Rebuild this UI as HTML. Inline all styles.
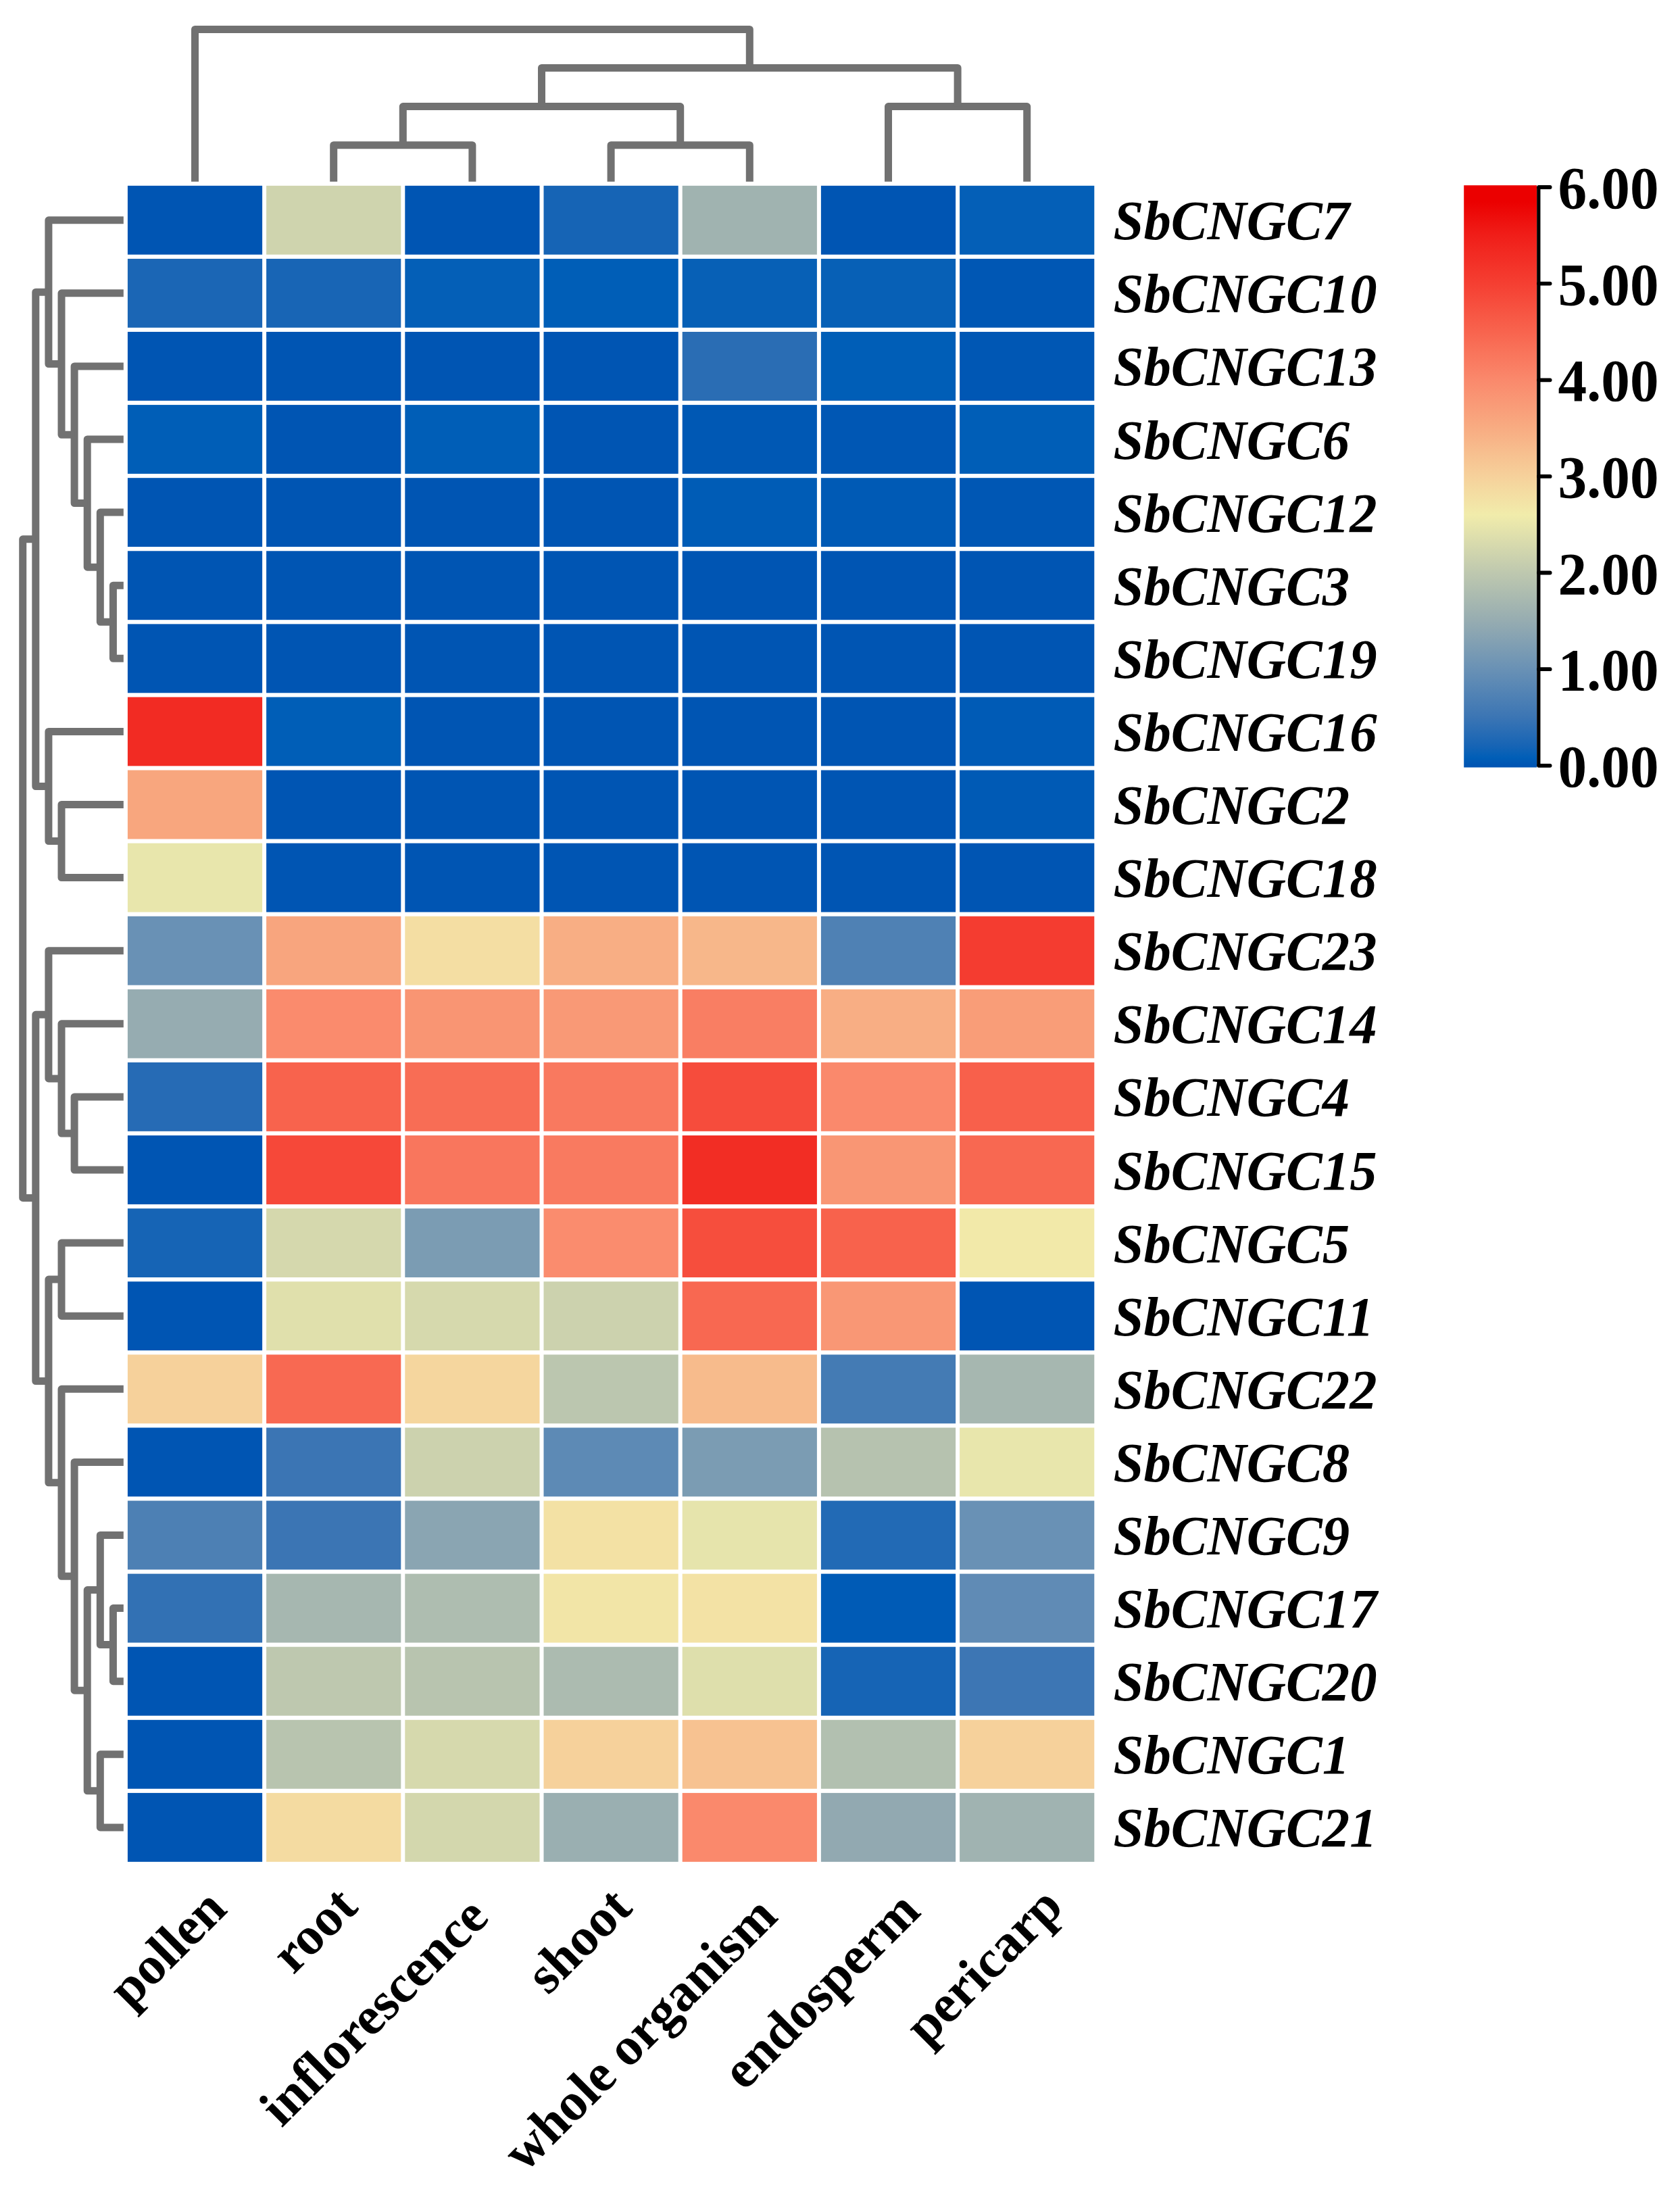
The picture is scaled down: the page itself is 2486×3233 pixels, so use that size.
<!DOCTYPE html>
<html><head><meta charset="utf-8"><title>Heatmap</title><style>html,body{margin:0;padding:0;background:#fff}svg{display:block}</style></head><body>
<svg width="2486" height="3233" viewBox="0 0 2486 3233">
<rect width="2486" height="3233" fill="#fff"/>
<g shape-rendering="auto">
<rect x="188.90" y="274.80" width="199.2" height="101.9" fill="#0055b3"/>
<rect x="394.10" y="274.80" width="199.2" height="101.9" fill="#cfd4ae"/>
<rect x="599.30" y="274.80" width="199.2" height="101.9" fill="#0055b3"/>
<rect x="804.50" y="274.80" width="199.2" height="101.9" fill="#1664b5"/>
<rect x="1009.70" y="274.80" width="199.2" height="101.9" fill="#a0b3b0"/>
<rect x="1214.90" y="274.80" width="199.2" height="101.9" fill="#0055b3"/>
<rect x="1420.10" y="274.80" width="199.2" height="101.9" fill="#045fb7"/>
<rect x="188.90" y="382.90" width="199.2" height="101.9" fill="#1b66b5"/>
<rect x="394.10" y="382.90" width="199.2" height="101.9" fill="#1865b5"/>
<rect x="599.30" y="382.90" width="199.2" height="101.9" fill="#045fb7"/>
<rect x="804.50" y="382.90" width="199.2" height="101.9" fill="#005eb7"/>
<rect x="1009.70" y="382.90" width="199.2" height="101.9" fill="#0760b6"/>
<rect x="1214.90" y="382.90" width="199.2" height="101.9" fill="#0760b6"/>
<rect x="1420.10" y="382.90" width="199.2" height="101.9" fill="#0057b4"/>
<rect x="188.90" y="490.99" width="199.2" height="101.9" fill="#0055b3"/>
<rect x="394.10" y="490.99" width="199.2" height="101.9" fill="#0055b3"/>
<rect x="599.30" y="490.99" width="199.2" height="101.9" fill="#0055b3"/>
<rect x="804.50" y="490.99" width="199.2" height="101.9" fill="#0055b3"/>
<rect x="1009.70" y="490.99" width="199.2" height="101.9" fill="#2a6db4"/>
<rect x="1214.90" y="490.99" width="199.2" height="101.9" fill="#005eb7"/>
<rect x="1420.10" y="490.99" width="199.2" height="101.9" fill="#0057b4"/>
<rect x="188.90" y="599.09" width="199.2" height="101.9" fill="#005eb7"/>
<rect x="394.10" y="599.09" width="199.2" height="101.9" fill="#0055b3"/>
<rect x="599.30" y="599.09" width="199.2" height="101.9" fill="#005eb7"/>
<rect x="804.50" y="599.09" width="199.2" height="101.9" fill="#0055b3"/>
<rect x="1009.70" y="599.09" width="199.2" height="101.9" fill="#0058b4"/>
<rect x="1214.90" y="599.09" width="199.2" height="101.9" fill="#0057b4"/>
<rect x="1420.10" y="599.09" width="199.2" height="101.9" fill="#005eb7"/>
<rect x="188.90" y="707.18" width="199.2" height="101.9" fill="#0055b3"/>
<rect x="394.10" y="707.18" width="199.2" height="101.9" fill="#0055b3"/>
<rect x="599.30" y="707.18" width="199.2" height="101.9" fill="#0055b3"/>
<rect x="804.50" y="707.18" width="199.2" height="101.9" fill="#0055b3"/>
<rect x="1009.70" y="707.18" width="199.2" height="101.9" fill="#005cb6"/>
<rect x="1214.90" y="707.18" width="199.2" height="101.9" fill="#005ab5"/>
<rect x="1420.10" y="707.18" width="199.2" height="101.9" fill="#0057b4"/>
<rect x="188.90" y="815.28" width="199.2" height="101.9" fill="#0055b3"/>
<rect x="394.10" y="815.28" width="199.2" height="101.9" fill="#0055b3"/>
<rect x="599.30" y="815.28" width="199.2" height="101.9" fill="#0055b3"/>
<rect x="804.50" y="815.28" width="199.2" height="101.9" fill="#0055b3"/>
<rect x="1009.70" y="815.28" width="199.2" height="101.9" fill="#0055b3"/>
<rect x="1214.90" y="815.28" width="199.2" height="101.9" fill="#0055b3"/>
<rect x="1420.10" y="815.28" width="199.2" height="101.9" fill="#0055b3"/>
<rect x="188.90" y="923.38" width="199.2" height="101.9" fill="#0055b3"/>
<rect x="394.10" y="923.38" width="199.2" height="101.9" fill="#0055b3"/>
<rect x="599.30" y="923.38" width="199.2" height="101.9" fill="#0055b3"/>
<rect x="804.50" y="923.38" width="199.2" height="101.9" fill="#0055b3"/>
<rect x="1009.70" y="923.38" width="199.2" height="101.9" fill="#0055b3"/>
<rect x="1214.90" y="923.38" width="199.2" height="101.9" fill="#0055b3"/>
<rect x="1420.10" y="923.38" width="199.2" height="101.9" fill="#0055b3"/>
<rect x="188.90" y="1031.47" width="199.2" height="101.9" fill="#f22b23"/>
<rect x="394.10" y="1031.47" width="199.2" height="101.9" fill="#005eb7"/>
<rect x="599.30" y="1031.47" width="199.2" height="101.9" fill="#0055b3"/>
<rect x="804.50" y="1031.47" width="199.2" height="101.9" fill="#0055b3"/>
<rect x="1009.70" y="1031.47" width="199.2" height="101.9" fill="#0055b3"/>
<rect x="1214.90" y="1031.47" width="199.2" height="101.9" fill="#0055b3"/>
<rect x="1420.10" y="1031.47" width="199.2" height="101.9" fill="#005bb6"/>
<rect x="188.90" y="1139.57" width="199.2" height="101.9" fill="#f8a67e"/>
<rect x="394.10" y="1139.57" width="199.2" height="101.9" fill="#0055b3"/>
<rect x="599.30" y="1139.57" width="199.2" height="101.9" fill="#0055b3"/>
<rect x="804.50" y="1139.57" width="199.2" height="101.9" fill="#0055b3"/>
<rect x="1009.70" y="1139.57" width="199.2" height="101.9" fill="#0055b3"/>
<rect x="1214.90" y="1139.57" width="199.2" height="101.9" fill="#0055b3"/>
<rect x="1420.10" y="1139.57" width="199.2" height="101.9" fill="#005ab5"/>
<rect x="188.90" y="1247.66" width="199.2" height="101.9" fill="#e8e6ac"/>
<rect x="394.10" y="1247.66" width="199.2" height="101.9" fill="#0055b3"/>
<rect x="599.30" y="1247.66" width="199.2" height="101.9" fill="#0055b3"/>
<rect x="804.50" y="1247.66" width="199.2" height="101.9" fill="#0055b3"/>
<rect x="1009.70" y="1247.66" width="199.2" height="101.9" fill="#0055b3"/>
<rect x="1214.90" y="1247.66" width="199.2" height="101.9" fill="#0055b3"/>
<rect x="1420.10" y="1247.66" width="199.2" height="101.9" fill="#0055b3"/>
<rect x="188.90" y="1355.76" width="199.2" height="101.9" fill="#6991b5"/>
<rect x="394.10" y="1355.76" width="199.2" height="101.9" fill="#f8a57e"/>
<rect x="599.30" y="1355.76" width="199.2" height="101.9" fill="#f4dea3"/>
<rect x="804.50" y="1355.76" width="199.2" height="101.9" fill="#f8ae84"/>
<rect x="1009.70" y="1355.76" width="199.2" height="101.9" fill="#f7b78a"/>
<rect x="1214.90" y="1355.76" width="199.2" height="101.9" fill="#4f81b4"/>
<rect x="1420.10" y="1355.76" width="199.2" height="101.9" fill="#f43c30"/>
<rect x="188.90" y="1463.86" width="199.2" height="101.9" fill="#96acb1"/>
<rect x="394.10" y="1463.86" width="199.2" height="101.9" fill="#fa8b6d"/>
<rect x="599.30" y="1463.86" width="199.2" height="101.9" fill="#f99573"/>
<rect x="804.50" y="1463.86" width="199.2" height="101.9" fill="#f99976"/>
<rect x="1009.70" y="1463.86" width="199.2" height="101.9" fill="#f97e63"/>
<rect x="1214.90" y="1463.86" width="199.2" height="101.9" fill="#f8ae84"/>
<rect x="1420.10" y="1463.86" width="199.2" height="101.9" fill="#f99d78"/>
<rect x="188.90" y="1571.95" width="199.2" height="101.9" fill="#266bb5"/>
<rect x="394.10" y="1571.95" width="199.2" height="101.9" fill="#f8634d"/>
<rect x="599.30" y="1571.95" width="199.2" height="101.9" fill="#f86d55"/>
<rect x="804.50" y="1571.95" width="199.2" height="101.9" fill="#f9795f"/>
<rect x="1009.70" y="1571.95" width="199.2" height="101.9" fill="#f64c3c"/>
<rect x="1214.90" y="1571.95" width="199.2" height="101.9" fill="#fa896c"/>
<rect x="1420.10" y="1571.95" width="199.2" height="101.9" fill="#f8604b"/>
<rect x="188.90" y="1680.05" width="199.2" height="101.9" fill="#0055b3"/>
<rect x="394.10" y="1680.05" width="199.2" height="101.9" fill="#f64839"/>
<rect x="599.30" y="1680.05" width="199.2" height="101.9" fill="#f9765d"/>
<rect x="804.50" y="1680.05" width="199.2" height="101.9" fill="#f97a60"/>
<rect x="1009.70" y="1680.05" width="199.2" height="101.9" fill="#f22d24"/>
<rect x="1214.90" y="1680.05" width="199.2" height="101.9" fill="#f99674"/>
<rect x="1420.10" y="1680.05" width="199.2" height="101.9" fill="#f86851"/>
<rect x="188.90" y="1788.14" width="199.2" height="101.9" fill="#1664b5"/>
<rect x="394.10" y="1788.14" width="199.2" height="101.9" fill="#d5d8ad"/>
<rect x="599.30" y="1788.14" width="199.2" height="101.9" fill="#7b9cb3"/>
<rect x="804.50" y="1788.14" width="199.2" height="101.9" fill="#fa8c6e"/>
<rect x="1009.70" y="1788.14" width="199.2" height="101.9" fill="#f64e3d"/>
<rect x="1214.90" y="1788.14" width="199.2" height="101.9" fill="#f8624c"/>
<rect x="1420.10" y="1788.14" width="199.2" height="101.9" fill="#f2e9a9"/>
<rect x="188.90" y="1896.24" width="199.2" height="101.9" fill="#0055b3"/>
<rect x="394.10" y="1896.24" width="199.2" height="101.9" fill="#e0e0ac"/>
<rect x="599.30" y="1896.24" width="199.2" height="101.9" fill="#d6d9ad"/>
<rect x="804.50" y="1896.24" width="199.2" height="101.9" fill="#ccd2ae"/>
<rect x="1009.70" y="1896.24" width="199.2" height="101.9" fill="#f86851"/>
<rect x="1214.90" y="1896.24" width="199.2" height="101.9" fill="#f99775"/>
<rect x="1420.10" y="1896.24" width="199.2" height="101.9" fill="#0055b3"/>
<rect x="188.90" y="2004.34" width="199.2" height="101.9" fill="#f6d19b"/>
<rect x="394.10" y="2004.34" width="199.2" height="101.9" fill="#f86952"/>
<rect x="599.30" y="2004.34" width="199.2" height="101.9" fill="#f5d69e"/>
<rect x="804.50" y="2004.34" width="199.2" height="101.9" fill="#bbc6af"/>
<rect x="1009.70" y="2004.34" width="199.2" height="101.9" fill="#f7bb8c"/>
<rect x="1214.90" y="2004.34" width="199.2" height="101.9" fill="#447bb4"/>
<rect x="1420.10" y="2004.34" width="199.2" height="101.9" fill="#a6b7b0"/>
<rect x="188.90" y="2112.43" width="199.2" height="101.9" fill="#0055b3"/>
<rect x="394.10" y="2112.43" width="199.2" height="101.9" fill="#3b75b4"/>
<rect x="599.30" y="2112.43" width="199.2" height="101.9" fill="#ccd2ae"/>
<rect x="804.50" y="2112.43" width="199.2" height="101.9" fill="#5d8ab5"/>
<rect x="1009.70" y="2112.43" width="199.2" height="101.9" fill="#7b9cb3"/>
<rect x="1214.90" y="2112.43" width="199.2" height="101.9" fill="#b6c2af"/>
<rect x="1420.10" y="2112.43" width="199.2" height="101.9" fill="#e8e6ac"/>
<rect x="188.90" y="2220.53" width="199.2" height="101.9" fill="#4d80b4"/>
<rect x="394.10" y="2220.53" width="199.2" height="101.9" fill="#3b75b4"/>
<rect x="599.30" y="2220.53" width="199.2" height="101.9" fill="#8aa5b2"/>
<rect x="804.50" y="2220.53" width="199.2" height="101.9" fill="#f3e1a4"/>
<rect x="1009.70" y="2220.53" width="199.2" height="101.9" fill="#e6e4ac"/>
<rect x="1214.90" y="2220.53" width="199.2" height="101.9" fill="#226ab5"/>
<rect x="1420.10" y="2220.53" width="199.2" height="101.9" fill="#6991b5"/>
<rect x="188.90" y="2328.62" width="199.2" height="101.9" fill="#3271b4"/>
<rect x="394.10" y="2328.62" width="199.2" height="101.9" fill="#a6b7b0"/>
<rect x="599.30" y="2328.62" width="199.2" height="101.9" fill="#aebdb0"/>
<rect x="804.50" y="2328.62" width="199.2" height="101.9" fill="#f2e5a7"/>
<rect x="1009.70" y="2328.62" width="199.2" height="101.9" fill="#f3e2a5"/>
<rect x="1214.90" y="2328.62" width="199.2" height="101.9" fill="#005bb6"/>
<rect x="1420.10" y="2328.62" width="199.2" height="101.9" fill="#608bb5"/>
<rect x="188.90" y="2436.72" width="199.2" height="101.9" fill="#0055b3"/>
<rect x="394.10" y="2436.72" width="199.2" height="101.9" fill="#bec8af"/>
<rect x="599.30" y="2436.72" width="199.2" height="101.9" fill="#b8c4af"/>
<rect x="804.50" y="2436.72" width="199.2" height="101.9" fill="#acbbb0"/>
<rect x="1009.70" y="2436.72" width="199.2" height="101.9" fill="#dedfac"/>
<rect x="1214.90" y="2436.72" width="199.2" height="101.9" fill="#1664b5"/>
<rect x="1420.10" y="2436.72" width="199.2" height="101.9" fill="#3d76b4"/>
<rect x="188.90" y="2544.82" width="199.2" height="101.9" fill="#0055b3"/>
<rect x="394.10" y="2544.82" width="199.2" height="101.9" fill="#b8c4af"/>
<rect x="599.30" y="2544.82" width="199.2" height="101.9" fill="#d6d9ad"/>
<rect x="804.50" y="2544.82" width="199.2" height="101.9" fill="#f6d19b"/>
<rect x="1009.70" y="2544.82" width="199.2" height="101.9" fill="#f7c291"/>
<rect x="1214.90" y="2544.82" width="199.2" height="101.9" fill="#b2c0b0"/>
<rect x="1420.10" y="2544.82" width="199.2" height="101.9" fill="#f6d19b"/>
<rect x="188.90" y="2652.91" width="199.2" height="101.9" fill="#0055b3"/>
<rect x="394.10" y="2652.91" width="199.2" height="101.9" fill="#f4dba1"/>
<rect x="599.30" y="2652.91" width="199.2" height="101.9" fill="#d3d7ad"/>
<rect x="804.50" y="2652.91" width="199.2" height="101.9" fill="#9aafb1"/>
<rect x="1009.70" y="2652.91" width="199.2" height="101.9" fill="#fa896c"/>
<rect x="1214.90" y="2652.91" width="199.2" height="101.9" fill="#92a9b1"/>
<rect x="1420.10" y="2652.91" width="199.2" height="101.9" fill="#a0b3b1"/>
</g>
<g fill="none" stroke="#717171" stroke-width="11" stroke-linejoin="round" stroke-linecap="butt">
<path d="M182.8 866.2H167.4V974.3H182.8"/>
<path d="M182.8 758.1H148.3V920.3H167.4"/>
<path d="M182.8 650.0H129.2V839.2H148.3"/>
<path d="M182.8 541.9H110.1V744.6H129.2"/>
<path d="M182.8 433.8H91.0V643.3H110.1"/>
<path d="M182.8 325.8H71.9V538.6H91.0"/>
<path d="M182.8 1190.5H91.0V1298.6H182.8"/>
<path d="M182.8 1082.4H71.9V1244.6H91.0"/>
<path d="M71.9 432.2H52.8V1163.5H71.9"/>
<path d="M182.8 1622.9H110.1V1731.0H182.8"/>
<path d="M182.8 1514.8H91.0V1677.0H110.1"/>
<path d="M182.8 1406.7H71.9V1595.9H91.0"/>
<path d="M182.8 1839.1H91.0V1947.2H182.8"/>
<path d="M182.8 2379.6H167.4V2487.7H182.8"/>
<path d="M182.8 2271.5H148.3V2433.6H167.4"/>
<path d="M182.8 2595.8H148.3V2703.9H182.8"/>
<path d="M148.3 2352.6H129.2V2649.8H148.3"/>
<path d="M182.8 2163.4H110.1V2501.2H129.2"/>
<path d="M182.8 2055.3H91.0V2332.3H110.1"/>
<path d="M91.0 1893.1H71.9V2193.8H91.0"/>
<path d="M71.9 1501.3H52.8V2043.5H71.9"/>
<path d="M52.8 797.8H33.7V1772.4H52.8"/>
<path d="M493.7 268.8V214.7H698.9V268.8"/>
<path d="M904.1 268.8V214.7H1109.3V268.8"/>
<path d="M596.3 214.7V157.6H1006.7V214.7"/>
<path d="M1314.5 268.8V157.6H1519.7V268.8"/>
<path d="M801.5 157.6V100.5H1417.1V157.6"/>
<path d="M288.5 268.8V43.4H1109.3V100.5"/>
</g>
<g font-family="'Liberation Serif', 'Times New Roman', serif" font-weight="bold" font-style="italic" font-size="83.33" fill="#000">
<text transform="translate(1647.6 354.2) scale(0.968 1)">SbCNGC7</text>
<text transform="translate(1647.6 462.3) scale(0.968 1)">SbCNGC10</text>
<text transform="translate(1647.6 570.4) scale(0.968 1)">SbCNGC13</text>
<text transform="translate(1647.6 678.5) scale(0.968 1)">SbCNGC6</text>
<text transform="translate(1647.6 786.6) scale(0.968 1)">SbCNGC12</text>
<text transform="translate(1647.6 894.7) scale(0.968 1)">SbCNGC3</text>
<text transform="translate(1647.6 1002.8) scale(0.968 1)">SbCNGC19</text>
<text transform="translate(1647.6 1110.9) scale(0.968 1)">SbCNGC16</text>
<text transform="translate(1647.6 1219.0) scale(0.968 1)">SbCNGC2</text>
<text transform="translate(1647.6 1327.1) scale(0.968 1)">SbCNGC18</text>
<text transform="translate(1647.6 1435.2) scale(0.968 1)">SbCNGC23</text>
<text transform="translate(1647.6 1543.3) scale(0.968 1)">SbCNGC14</text>
<text transform="translate(1647.6 1651.4) scale(0.968 1)">SbCNGC4</text>
<text transform="translate(1647.6 1759.5) scale(0.968 1)">SbCNGC15</text>
<text transform="translate(1647.6 1867.6) scale(0.968 1)">SbCNGC5</text>
<text transform="translate(1647.6 1975.7) scale(0.968 1)">SbCNGC11</text>
<text transform="translate(1647.6 2083.8) scale(0.968 1)">SbCNGC22</text>
<text transform="translate(1647.6 2191.9) scale(0.968 1)">SbCNGC8</text>
<text transform="translate(1647.6 2300.0) scale(0.968 1)">SbCNGC9</text>
<text transform="translate(1647.6 2408.1) scale(0.968 1)">SbCNGC17</text>
<text transform="translate(1647.6 2516.2) scale(0.968 1)">SbCNGC20</text>
<text transform="translate(1647.6 2624.3) scale(0.968 1)">SbCNGC1</text>
<text transform="translate(1647.6 2732.4) scale(0.968 1)">SbCNGC21</text>
</g>
<g font-family="'Liberation Serif', 'Times New Roman', serif" font-weight="bold" font-size="79.0" fill="#000" text-anchor="end">
<text transform="translate(338.5 2828.0) rotate(-45)" x="0" y="0">pollen</text>
<text transform="translate(532.3 2824.6) rotate(-45)" x="0" y="0">root</text>
<text transform="translate(726.0 2840.0) rotate(-45)" x="0" y="0">inflorescence</text>
<text transform="translate(938.4 2826.0) rotate(-45)" x="0" y="0">shoot</text>
<text transform="translate(1153.5 2838.8) rotate(-45)" x="0" y="0">whole organism</text>
<text transform="translate(1365.0 2831.2) rotate(-45)" x="0" y="0">endosperm</text>
<text transform="translate(1576.0 2824.7) rotate(-45)" x="0" y="0">pericarp</text>
</g>
<defs><linearGradient id="cb" x1="0" y1="0" x2="0" y2="1"><stop offset="0.0033" stop-color="rgb(235, 0, 0)"/><stop offset="0.0281" stop-color="rgb(235, 0, 0)"/><stop offset="0.0861" stop-color="rgb(240, 30, 25)"/><stop offset="0.1689" stop-color="rgb(245, 63, 50)"/><stop offset="0.2517" stop-color="rgb(248, 100, 78)"/><stop offset="0.3345" stop-color="rgb(250, 137, 108)"/><stop offset="0.4173" stop-color="rgb(248, 172, 130)"/><stop offset="0.5001" stop-color="rgb(246, 209, 155)"/><stop offset="0.5663" stop-color="rgb(241, 236, 171)"/><stop offset="0.6657" stop-color="rgb(190, 200, 175)"/><stop offset="0.7485" stop-color="rgb(150, 172, 177)"/><stop offset="0.8313" stop-color="rgb(105, 145, 181)"/><stop offset="0.9141" stop-color="rgb(59, 117, 180)"/><stop offset="0.9637" stop-color="rgb(22, 100, 181)"/><stop offset="0.9836" stop-color="rgb(0, 94, 183)"/><stop offset="0.9969" stop-color="rgb(0, 85, 179)"/></linearGradient></defs>
<rect x="2166.2" y="274.2" width="107.80000000000018" height="861.3" fill="url(#cb)"/>
<g stroke="#000" stroke-width="5.8" stroke-linecap="round" fill="none">
<path d="M2276.8 277.0V1132.8" stroke-linecap="butt" stroke-width="5.3"/>
<path d="M2277 1132.8H2293.6"/>
<path d="M2277 990.2H2293.6"/>
<path d="M2277 847.5H2293.6"/>
<path d="M2277 704.9H2293.6"/>
<path d="M2277 562.3H2293.6"/>
<path d="M2277 419.6H2293.6"/>
<path d="M2277 277.0H2293.6"/>
</g>
<g font-family="'Liberation Serif', 'Times New Roman', serif" font-weight="bold" font-size="83.33" fill="#000">
<text transform="translate(2305.5 1163.8) scale(1.022 1.055)">0.00</text>
<text transform="translate(2305.5 1021.2) scale(1.022 1.055)">1.00</text>
<text transform="translate(2305.5 878.5) scale(1.022 1.055)">2.00</text>
<text transform="translate(2305.5 735.9) scale(1.022 1.055)">3.00</text>
<text transform="translate(2305.5 593.3) scale(1.022 1.055)">4.00</text>
<text transform="translate(2305.5 450.6) scale(1.022 1.055)">5.00</text>
<text transform="translate(2305.5 308.0) scale(1.022 1.055)">6.00</text>
</g>
</svg>
</body></html>
